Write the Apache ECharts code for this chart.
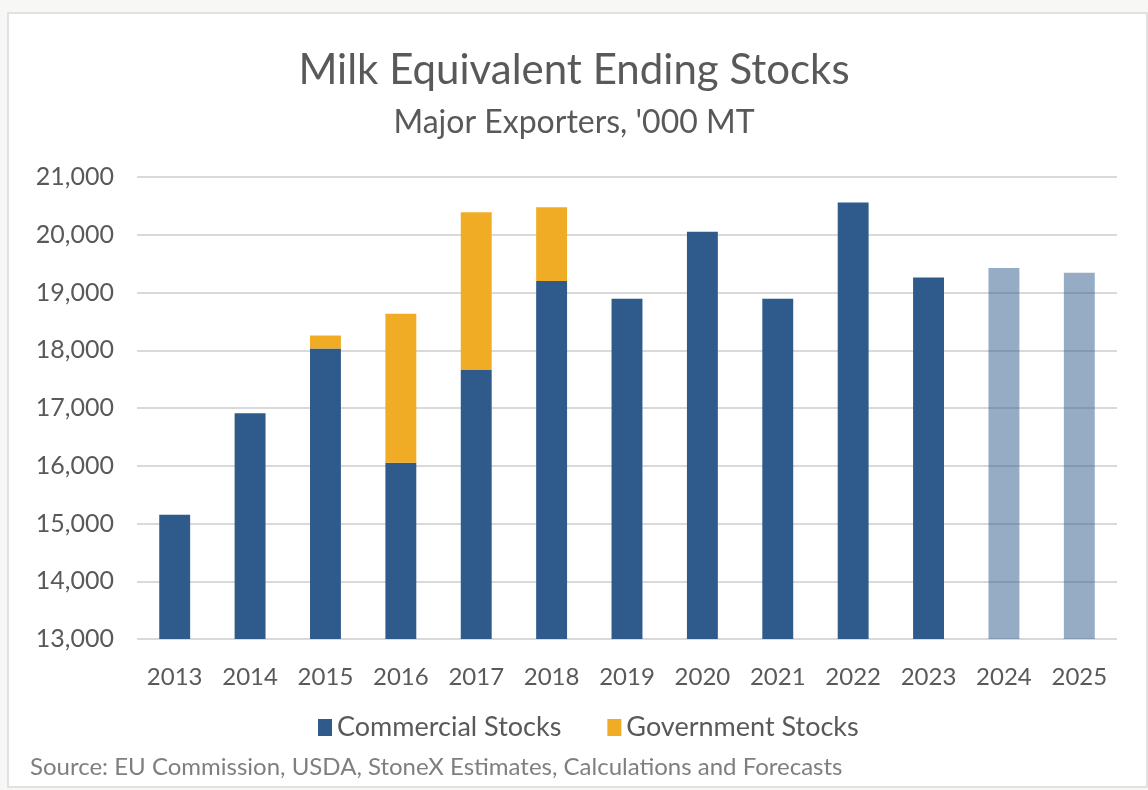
<!DOCTYPE html>
<html>
<head>
<meta charset="utf-8">
<script src="https://cdn.jsdelivr.net/npm/echarts@6/dist/echarts.min.js"></script>
<style>
  html, body { margin: 0; padding: 0; background: #f7f7f5; }
  #frame {
    position: absolute; left: 7px; top: 12px; width: 1137px; height: 772px;
    background: #fff; border: 2px solid #e2e2e2;
  }
  #chart { width: 1148px; height: 790px; position: absolute; left: 0; top: 0; }
</style>
</head>
<body>
<div id="frame"></div>
<div id="chart"></div>
<script>
// data ('000 MT)
var years = ['2013', '2014', '2015', '2016', '2017', '2018', '2019', '2020', '2021', '2022', '2023', '2024', '2025']
var commercial = [15150, 16910, 18030, 16050, 17660, 19200, 18890, 20050, 18890, 20560, 19260, 19425, 19340]
var government = [null, null, 225, 2580, 2730, 1275, null, null, null, null, null, null, null]
var forecastYears = ['2024', '2025']

var blue = '#2e5a8c'
var orange = '#f0ac25'
var txt = '#595959'
var font = 'Lato, "Open Sans", sans-serif'

var chart = echarts.init(document.getElementById('chart'), null, { renderer: 'canvas' })

// forecast years get a faded bar
var commercialData = commercial.map(function (v, i) {
  if (forecastYears.indexOf(years[i]) >= 0) {
    return { value: v, itemStyle: { color: 'rgba(46,90,140,0.5)' } }
  }
  return v
})

chart.setOption({
  backgroundColor: 'transparent',
  animation: false,
  title: {
    text: 'Milk Equivalent Ending Stocks',
    subtext: "Major Exporters, '000 MT",
    left: 'center',
    top: 44,
    itemGap: 16,
    textStyle: { fontFamily: font, fontSize: 42, fontWeight: 'normal', color: txt },
    subtextStyle: { fontFamily: font, fontSize: 32, color: txt }
  },
  grid: {
    left: 137,
    right: 31,
    top: 177,
    bottom: 151
  },
  legend: {
    data: ['Commercial Stocks', 'Government Stocks'],
    bottom: 44,
    left: 313,
    itemWidth: 14,
    itemHeight: 17,
    itemGap: 46,
    icon: 'rect',
    textStyle: { fontFamily: font, fontSize: 27, color: txt, padding: [0, 0, 0, 0] }
  },
  xAxis: {
    type: 'category',
    data: years,
    axisLine: { show: false },
    axisTick: { show: false },
    axisLabel: { fontFamily: font, fontSize: 24, color: txt, margin: 26 }
  },
  yAxis: {
    type: 'value',
    min: 13000,
    max: 21000,
    interval: 1000,
    axisLine: { show: false },
    axisTick: { show: false },
    splitLine: { lineStyle: { color: '#d9d9d9', width: 2 } },
    axisLabel: {
      fontFamily: font,
      fontSize: 25,
      color: txt,
      margin: 23,
      formatter: function (v) { return v.toLocaleString('en-US') }
    }
  },
  graphic: [{
    type: 'text',
    left: 30,
    top: 755,
    style: {
      text: 'Source: EU Commission, USDA, StoneX Estimates, Calculations and Forecasts',
      fontFamily: font,
      fontSize: 24,
      fill: '#7f7f7f'
    }
  }],
  series: [
    {
      name: 'Commercial Stocks',
      type: 'bar',
      stack: 'stocks',
      barWidth: '41%',
      itemStyle: { color: blue },
      data: commercialData
    },
    {
      name: 'Government Stocks',
      type: 'bar',
      stack: 'stocks',
      itemStyle: { color: orange },
      data: government
    }
  ]
})
</script>
</body>
</html>
